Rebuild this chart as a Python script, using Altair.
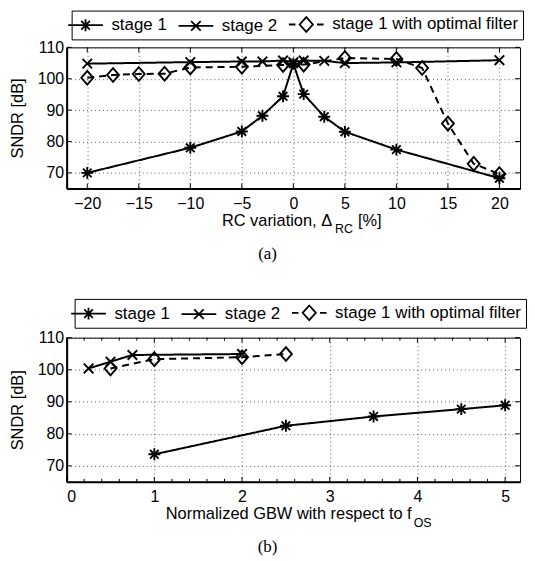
import altair as alt
import pandas as pd

SERIES = ["stage 1", "stage 2", "stage 1 with optimal filter"]

# ---- panel (a): RC variation ----
a_s1_x = [-20, -10, -5, -3, -1, 0, 1, 3, 5, 10, 20]
a_s1_y = [70.0, 78.0, 83.2, 88.2, 94.4, 104.8, 95.1, 87.9, 83.1, 77.4, 68.3]
a_s2_x = [-20, -10, -5, -3, -1, 0, 1, 3, 5, 10, 20]
a_s2_y = [104.8, 105.3, 105.5, 105.5, 105.8, 105.3, 105.8, 105.7, 105.0, 105.2, 105.9]
a_s3_x = [-20, -17.5, -15, -12.5, -10, -5, -1, 1, 5, 10, 12.5, 15, 17.5, 20]
a_s3_y = [100.3, 101.2, 101.5, 101.6, 103.6, 103.8, 104.4, 104.5, 106.6, 106.3, 103.4, 85.7, 72.9, 69.6]

# ---- panel (b): normalized GBW ----
b_s1_x = [1, 2.5, 3.5, 4.5, 5]
b_s1_y = [73.6, 82.5, 85.4, 87.7, 88.9]
b_s2_x = [0.25, 0.5, 0.75, 2]
b_s2_y = [100.4, 102.5, 104.6, 104.9]
b_s3_x = [0.5, 1, 2, 2.5]
b_s3_y = [100.4, 103.3, 103.9, 104.9]

a_xticks = [-20, -15, -10, -5, 0, 5, 10, 15, 20]
b_xticks = [0, 1, 2, 3, 4, 5]
b_xminor = [0.2, 0.4, 0.6, 0.8, 1.2, 1.4, 1.6, 1.8, 2.2, 2.4, 2.6, 2.8,
            3.2, 3.4, 3.6, 3.8, 4.2, 4.4, 4.6, 4.8]
yticks = [70, 80, 90, 100, 110]

MARK_PATHS = [
    "M0,-1L0,1M-1,0L1,0M-0.72,-0.72L0.72,0.72M-0.72,0.72L0.72,-0.72",
    "M-0.8,-0.8L0.8,0.8M-0.8,0.8L0.8,-0.8",
    "M0,-1.15L1.0,0L0,1.15L-1.0,0Z",
]
LEGEND_PATHS = [
    "M-1.94,0L1.94,0M0,-0.66L0,0.66M-0.48,-0.48L0.48,0.48M-0.48,0.48L0.48,-0.48",
    "M-1.94,0L1.94,0M-0.53,-0.53L0.53,0.53M-0.53,0.53L0.53,-0.53",
    "M-1.94,0L-1.2,0M1.2,0L1.94,0M0,-0.82L0.74,0L0,0.82L-0.74,0Z",
]

FONT = "Liberation Sans"
W = 456


def make_df(groups):
    rows = []
    for name, xs, ys in groups:
        for i, (x, y) in enumerate(zip(xs, ys)):
            rows.append({"series": name, "x": x, "y": y, "i": i})
    return pd.DataFrame(rows)


def panel(df, H, xdomain, xticks, xminor, title_main, title_sub, caption,
          leg_x, leg_y, main_right, sub_left, tail=None, tail_left=None):
    xs = alt.Scale(domain=xdomain, nice=False, zero=False)
    ys = alt.Scale(domain=[65, 110], nice=False, zero=False)
    xaxis = alt.Axis(values=xticks, title=None, ticks=False, labelPadding=7,
                     format="d", labelOverlap=False, tickCount=20,
                     grid=True, gridDash=[1, 3], gridColor="#333", gridWidth=0.8,
                     domainColor="black", domainWidth=2, labelFontSize=16,
                     labelColor="black", labelFont=FONT)
    yaxis = alt.Axis(values=yticks, title="SNDR [dB]", ticks=False, labelPadding=3,
                     labelOverlap=False, tickCount=10,
                     grid=True, gridDash=[1, 3], gridColor="#333", gridWidth=0.8,
                     domainColor="black", domainWidth=2, labelFontSize=16,
                     labelColor="black", labelFont=FONT, titleFont=FONT,
                     titleFontSize=16.5, titleFontWeight="normal", titleColor="black",
                     titlePadding=12)
    base = alt.Chart(df)
    lines = base.mark_line(color="black", strokeWidth=2).encode(
        x=alt.X("x:Q", scale=xs, axis=xaxis),
        y=alt.Y("y:Q", scale=ys, axis=yaxis),
        detail="series:N",
        order="i:Q",
        strokeDash=alt.StrokeDash("series:N",
                                  scale=alt.Scale(domain=SERIES, range=[[1, 0], [1, 0], [7, 5]]),
                                  legend=None),
    )
    pts = base.mark_point(filled=False, color="black", strokeWidth=1.9, size=144,
                          opacity=1).encode(
        x=alt.X("x:Q"),
        y=alt.Y("y:Q"),
        shape=alt.Shape("series:N", scale=alt.Scale(domain=SERIES, range=MARK_PATHS),
                        legend=None),
    )
    leg = base.transform_filter("false").mark_point(
        filled=False, color="black", strokeWidth=1.8, opacity=1).encode(
        x=alt.X("x:Q"),
        y=alt.Y("y:Q"),
        shape=alt.Shape("series:N", scale=alt.Scale(domain=SERIES, range=LEGEND_PATHS),
                        legend=alt.Legend(title=None, orient="none", legendX=leg_x,
                                          legendY=leg_y, direction="horizontal",
                                          columns=3, symbolSize=324,
                                          symbolStrokeWidth=1.8,
                                          symbolStrokeColor="black",
                                          labelFont=FONT, labelFontSize=17,
                                          labelColor="black", labelOffset=16,
                                          labelLimit=400,
                                          columnPadding=7, padding=4,
                                          strokeColor="black", fillColor="white")),
    )
    tick_df = pd.DataFrame({"x": xticks})
    ytick_df = pd.DataFrame({"y": yticks})
    tk = []
    tk.append(alt.Chart(tick_df).mark_rule(color="black", strokeWidth=1).encode(
        x="x:Q", y=alt.value(H), y2=alt.value(H - 5)))
    tk.append(alt.Chart(tick_df).mark_rule(color="black", strokeWidth=1).encode(
        x="x:Q", y=alt.value(0), y2=alt.value(5)))
    tk.append(alt.Chart(ytick_df).mark_rule(color="black", strokeWidth=1).encode(
        y="y:Q", x=alt.value(0), x2=alt.value(5)))
    tk.append(alt.Chart(ytick_df).mark_rule(color="black", strokeWidth=1).encode(
        y="y:Q", x=alt.value(W), x2=alt.value(W - 5)))
    if xminor:
        mdf = pd.DataFrame({"x": xminor})
        tk.append(alt.Chart(mdf).mark_rule(color="black", strokeWidth=1).encode(
            x="x:Q", y=alt.value(H), y2=alt.value(H - 3)))
        tk.append(alt.Chart(mdf).mark_rule(color="black", strokeWidth=1).encode(
            x="x:Q", y=alt.value(0), y2=alt.value(3)))

    t_main = alt.Chart(pd.DataFrame({"t": [title_main]})).mark_text(
        align="right", baseline="alphabetic", font=FONT, fontSize=16.5, color="black"
    ).encode(text="t:N", x=alt.value(main_right), y=alt.value(H + 37.5))
    t_sub = alt.Chart(pd.DataFrame({"t": [title_sub]})).mark_text(
        align="left", baseline="alphabetic", font=FONT, fontSize=12.5, color="black"
    ).encode(text="t:N", x=alt.value(sub_left), y=alt.value(H + 45))
    layers = [lines, pts, leg] + tk + [t_main, t_sub]
    if tail:
        t_tail = alt.Chart(pd.DataFrame({"t": [tail]})).mark_text(
            align="left", baseline="alphabetic", font=FONT, fontSize=16.5, color="black"
        ).encode(text="t:N", x=alt.value(tail_left), y=alt.value(H + 37.5))
        layers.append(t_tail)
    cap = alt.Chart(pd.DataFrame({"t": [caption]})).mark_text(
        align="center", baseline="alphabetic", font="Liberation Serif", fontSize=17,
        color="black"
    ).encode(text="t:N", x=alt.value(202), y=alt.value(H + 71))
    layers.append(cap)
    return alt.layer(*layers).resolve_scale(shape="independent",
                                            strokeDash="independent").properties(
        width=W, height=H)


df_a = make_df([(SERIES[0], a_s1_x, a_s1_y), (SERIES[1], a_s2_x, a_s2_y),
                (SERIES[2], a_s3_x, a_s3_y)])
df_b = make_df([(SERIES[0], b_s1_x, b_s1_y), (SERIES[1], b_s2_x, b_s2_y),
                (SERIES[2], b_s3_x, b_s3_y)])

pa = panel(df_a, 142, [-22, 22], a_xticks, None, "RC variation, Δ", "RC", "(a)",
           5, -37, 267, 270, "[%]", 293)
pb = panel(df_b, 145, [0, 5.17], b_xticks, b_xminor, "Normalized GBW with respect to f",
           "OS", "(b)", 8, -39, 347, 349)

chart = alt.vconcat(pa, pb, spacing=35).configure(
    padding={"left": 0, "top": 0, "right": 0, "bottom": 0},
    background="white",
).configure_view(stroke="black", strokeWidth=1)

chart.save("out.html", embed_options={"renderer": "svg", "actions": False})
